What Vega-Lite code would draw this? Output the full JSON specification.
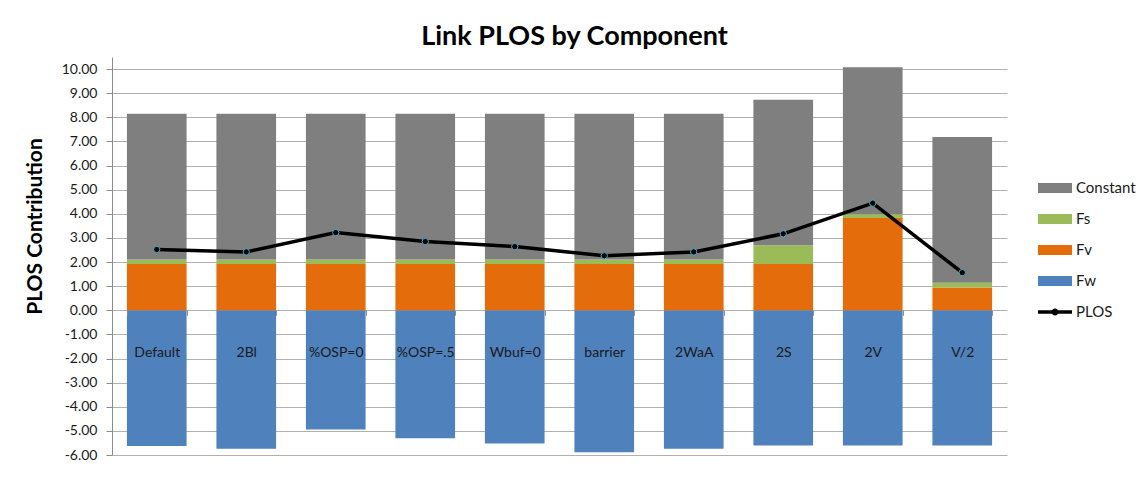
{
  "$schema": "https://vega.github.io/schema/vega-lite/v6.json",
  "autosize": "none",
  "width": 895,
  "height": 398,
  "padding": {"left": 112, "top": 57, "right": 133, "bottom": 46},
  "background": "white",
  "config": {
    "font": "Lato",
    "view": {"stroke": null},
    "axisY": {
      "title": "PLOS Contribution",
      "titleFont": "Lato",
      "titleFontSize": 21,
      "titleFontWeight": "bold",
      "titleColor": "#000000",
      "titlePadding": 16,
      "titleY": 169,
      "tickCount": 17,
      "labelExpr": "(datum.value < 0 ? '-' : '') + format(abs(datum.value), '.2f')",
      "labelOverlap": false,
      "labelFontSize": 14,
      "labelColor": "#1a1a1a",
      "labelPadding": 9,
      "tickSize": 6,
      "tickColor": "#8c8c8c",
      "domainColor": "#8c8c8c",
      "gridColor": "#b0b0b0",
      "gridWidth": 1.2
    }
  },
  "title": {
    "text": "Link PLOS by Component",
    "font": "Lato",
    "fontSize": 27,
    "fontWeight": "bold",
    "color": "#000000",
    "anchor": "middle",
    "frame": "group",
    "dx": 15,
    "offset": 6
  },
  "datasets": {
    "components": [
      {"scenario": "Default", "component": "Fw", "value": -5.63},
      {"scenario": "Default", "component": "Fv", "value": 1.92},
      {"scenario": "Default", "component": "Fs", "value": 0.19},
      {"scenario": "Default", "component": "Constant", "value": 6.04},
      {"scenario": "2Bl", "component": "Fw", "value": -5.74},
      {"scenario": "2Bl", "component": "Fv", "value": 1.92},
      {"scenario": "2Bl", "component": "Fs", "value": 0.19},
      {"scenario": "2Bl", "component": "Constant", "value": 6.04},
      {"scenario": "%OSP=0", "component": "Fw", "value": -4.94},
      {"scenario": "%OSP=0", "component": "Fv", "value": 1.92},
      {"scenario": "%OSP=0", "component": "Fs", "value": 0.19},
      {"scenario": "%OSP=0", "component": "Constant", "value": 6.04},
      {"scenario": "%OSP=.5", "component": "Fw", "value": -5.31},
      {"scenario": "%OSP=.5", "component": "Fv", "value": 1.92},
      {"scenario": "%OSP=.5", "component": "Fs", "value": 0.19},
      {"scenario": "%OSP=.5", "component": "Constant", "value": 6.04},
      {"scenario": "Wbuf=0", "component": "Fw", "value": -5.52},
      {"scenario": "Wbuf=0", "component": "Fv", "value": 1.92},
      {"scenario": "Wbuf=0", "component": "Fs", "value": 0.19},
      {"scenario": "Wbuf=0", "component": "Constant", "value": 6.04},
      {"scenario": "barrier", "component": "Fw", "value": -5.89},
      {"scenario": "barrier", "component": "Fv", "value": 1.92},
      {"scenario": "barrier", "component": "Fs", "value": 0.19},
      {"scenario": "barrier", "component": "Constant", "value": 6.04},
      {"scenario": "2WaA", "component": "Fw", "value": -5.74},
      {"scenario": "2WaA", "component": "Fv", "value": 1.92},
      {"scenario": "2WaA", "component": "Fs", "value": 0.19},
      {"scenario": "2WaA", "component": "Constant", "value": 6.04},
      {"scenario": "2S", "component": "Fw", "value": -5.61},
      {"scenario": "2S", "component": "Fv", "value": 1.92},
      {"scenario": "2S", "component": "Fs", "value": 0.78},
      {"scenario": "2S", "component": "Constant", "value": 6.03},
      {"scenario": "2V", "component": "Fw", "value": -5.61},
      {"scenario": "2V", "component": "Fv", "value": 3.83},
      {"scenario": "2V", "component": "Fs", "value": 0.15},
      {"scenario": "2V", "component": "Constant", "value": 6.10},
      {"scenario": "V/2", "component": "Fw", "value": -5.61},
      {"scenario": "V/2", "component": "Fv", "value": 0.94},
      {"scenario": "V/2", "component": "Fs", "value": 0.20},
      {"scenario": "V/2", "component": "Constant", "value": 6.04}
    ],
    "plos": [
      {"scenario": "Default", "PLOS": 2.52},
      {"scenario": "2Bl", "PLOS": 2.42},
      {"scenario": "%OSP=0", "PLOS": 3.22},
      {"scenario": "%OSP=.5", "PLOS": 2.85},
      {"scenario": "Wbuf=0", "PLOS": 2.64},
      {"scenario": "barrier", "PLOS": 2.26},
      {"scenario": "2WaA", "PLOS": 2.42},
      {"scenario": "2S", "PLOS": 3.17},
      {"scenario": "2V", "PLOS": 4.44},
      {"scenario": "V/2", "PLOS": 1.56}
    ]
  },
  "encoding": {
    "x": {
      "field": "scenario",
      "type": "nominal",
      "sort": ["Default", "2Bl", "%OSP=0", "%OSP=.5", "Wbuf=0", "barrier", "2WaA", "2S", "2V", "V/2"],
      "scale": {"paddingInner": 0.3333, "paddingOuter": 0.1667},
      "axis": {
        "title": null,
        "orient": "bottom",
        "offset": -144.7,
        "labelAngle": 0,
        "domain": false,
        "ticks": true,
        "tickBand": "extent",
        "tickSize": 5,
        "tickColor": "#8c8c8c",
        "labelPadding": 30,
        "labelFontSize": 14,
        "labelColor": "#1a1a1a",
        "labelFont": "Lato",
        "zindex": 1
      }
    }
  },
  "layer": [
    {
      "data": {"name": "components"},
      "mark": {"type": "bar"},
      "encoding": {
        "y": {
          "field": "value",
          "type": "quantitative",
          "stack": "zero",
          "scale": {"domain": [-6, 10.5], "nice": false, "zero": false},
          "axis": {"title": "PLOS Contribution", "values": [-6, -5, -4, -3, -2, -1, 0, 1, 2, 3, 4, 5, 6, 7, 8, 9, 10]}
        },
        "color": {
          "field": "component",
          "type": "nominal",
          "scale": {
            "domain": ["Constant", "Fs", "Fv", "Fw", "PLOS"],
            "range": ["#7f7f7f", "#9bbb59", "#e46c0a", "#4f81bd", "#000000"]
          },
          "legend": {
            "title": null,
            "orient": "none",
            "legendX": 926,
            "legendY": 121,
            "labelFontSize": 15,
            "labelColor": "#1a1a1a",
            "labelFont": "Lato",
            "symbolSize": 1156,
            "clipHeight": 20,
            "rowPadding": 11,
            "labelOffset": 4,
            "symbolStrokeWidth": 0,
            "encode": {
              "symbols": {
                "update": {
                  "shape": {"signal": "datum.value === 'PLOS' ? 'M-1,-0.1H1V0.1H-1Z M0.2,0A0.2,0.2 0 1,1 -0.2,0A0.2,0.2 0 1,1 0.2,0Z' : 'M-1,-0.29H1V0.29H-1Z'"},
                  "fill": {"scale": "color", "field": "value"},
                  "opacity": {"value": 1},
                  "strokeWidth": {"value": 0}
                }
              }
            }
          }
        },
        "order": {"field": "component", "sort": "descending"}
      }
    },
    {
      "data": {"name": "plos"},
      "mark": {"type": "line", "strokeWidth": 3.5, "color": "#000000"},
      "encoding": {
        "y": {"field": "PLOS", "type": "quantitative", "axis": {"title": "PLOS Contribution", "values": [-6, -5, -4, -3, -2, -1, 0, 1, 2, 3, 4, 5, 6, 7, 8, 9, 10]}},
        "color": {"datum": "PLOS"}
      }
    },
    {
      "data": {"name": "plos"},
      "mark": {"type": "point", "filled": true, "fill": "#000000", "stroke": "#4bacc6", "strokeWidth": 1, "size": 40, "opacity": 1},
      "encoding": {
        "y": {"field": "PLOS", "type": "quantitative", "axis": {"title": "PLOS Contribution", "values": [-6, -5, -4, -3, -2, -1, 0, 1, 2, 3, 4, 5, 6, 7, 8, 9, 10]}}
      }
    }
  ]
}
